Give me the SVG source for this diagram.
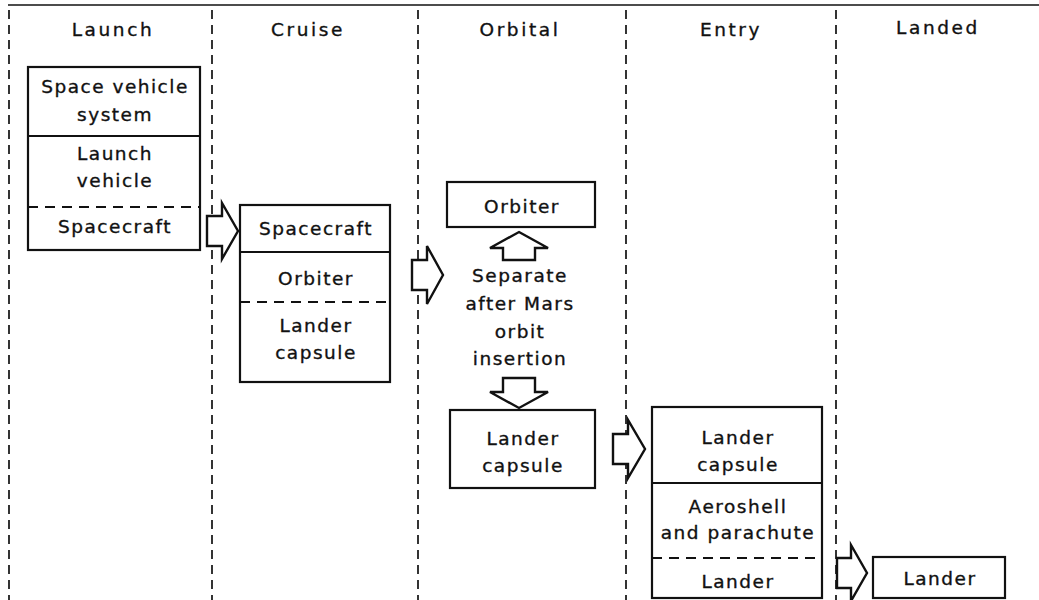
<svg xmlns="http://www.w3.org/2000/svg" width="1039" height="600" viewBox="0 0 1039 600">
<style>
text{font-family:"DejaVu Sans","Liberation Sans",sans-serif;font-size:18.5px;fill:#111;stroke:#111;stroke-width:0.35;text-anchor:middle;letter-spacing:1.5px}
.hdr{letter-spacing:2.6px}
.box{fill:#fff;stroke:#111;stroke-width:2.2}
.div{stroke:#111;stroke-width:2.2;fill:none}
.dash{stroke:#111;stroke-width:2.2;stroke-dasharray:10 7;fill:none}
.lane{stroke:#111;stroke-width:1.7;stroke-dasharray:9 6;fill:none}
.arr{fill:#fff;stroke:#111;stroke-width:2.4;stroke-linejoin:miter}
</style>
<rect width="1039" height="600" fill="#fff"/>
<g id="lanes">
<line x1="8" y1="5" x2="1039" y2="5" stroke="#111" stroke-width="1.6"/>
<line class="lane" x1="9" y1="10" x2="9" y2="600"/>
<line class="lane" x1="212" y1="10" x2="212" y2="600"/>
<line class="lane" x1="418" y1="10" x2="418" y2="600"/>
<line class="lane" x1="626" y1="10" x2="626" y2="600"/>
<line class="lane" x1="836" y1="10" x2="836" y2="600"/>
<text class="hdr" x="113" y="36">Launch</text>
<text class="hdr" x="308" y="36">Cruise</text>
<text class="hdr" x="520" y="36">Orbital</text>
<text class="hdr" x="731" y="36">Entry</text>
<text class="hdr" x="938" y="34">Landed</text>
</g>
<g id="launch-stack">
<rect class="box" x="28" y="67" width="172" height="183"/>
<line class="div" x1="28" y1="136" x2="200" y2="136"/>
<line class="dash" x1="28" y1="207" x2="200" y2="207"/>
<text x="115" y="93">Space vehicle</text>
<text x="115" y="121">system</text>
<text x="115" y="160">Launch</text>
<text x="115" y="187">vehicle</text>
<text x="115" y="233">Spacecraft</text>
</g>
<g id="cruise-stack">
<rect class="box" x="240" y="205" width="150" height="177"/>
<line class="div" x1="240" y1="252" x2="390" y2="252"/>
<line class="dash" x1="240" y1="302" x2="390" y2="302"/>
<text x="316" y="235">Spacecraft</text>
<text x="316" y="285">Orbiter</text>
<text x="316" y="332">Lander</text>
<text x="316" y="359">capsule</text>
</g>
<g id="orbiter">
<rect class="box" x="447" y="182" width="148" height="45"/>
<text x="522" y="213">Orbiter</text>
</g>
<g id="separate">
<text x="520" y="282">Separate</text>
<text x="520" y="310">after Mars</text>
<text x="520" y="338">orbit</text>
<text x="520" y="365">insertion</text>
</g>
<g id="orbital-lander-capsule">
<rect class="box" x="450" y="410" width="145" height="78"/>
<text x="523" y="445">Lander</text>
<text x="523" y="472">capsule</text>
</g>
<g id="entry-stack">
<rect class="box" x="652" y="407" width="170" height="191"/>
<line class="div" x1="652" y1="483" x2="822" y2="483"/>
<line class="dash" x1="652" y1="558" x2="822" y2="558"/>
<text x="738" y="444">Lander</text>
<text x="738" y="471">capsule</text>
<text x="738" y="513">Aeroshell</text>
<text x="738" y="539">and parachute</text>
<text x="738" y="588">Lander</text>
</g>
<g id="landed-lander">
<rect class="box" x="873" y="557" width="132" height="41"/>
<text x="940" y="585">Lander</text>
</g>
<g id="connectors">
<path class="arr" d="M207,216 L222,216 L222,203 L238,231 L222,259 L222,246 L207,246 Z"/>
<path class="arr" d="M412,260 L427,260 L427,246 L443,275 L427,304 L427,290 L412,290 Z"/>
<path class="arr" d="M613,434 L628,434 L628,420 L645,449 L628,478 L628,464 L613,464 Z"/>
<path class="arr" d="M837,558 L851,558 L851,545 L867,573 L851,601 L851,588 L837,588 Z"/>
<path class="arr" d="M519,232 L548,248 L535,248 L535,260 L503,260 L503,248 L490,248 Z"/>
<path class="arr" d="M503,378 L535,378 L535,392 L548,392 L519,408 L490,392 L503,392 Z"/>
</g>
</svg>
